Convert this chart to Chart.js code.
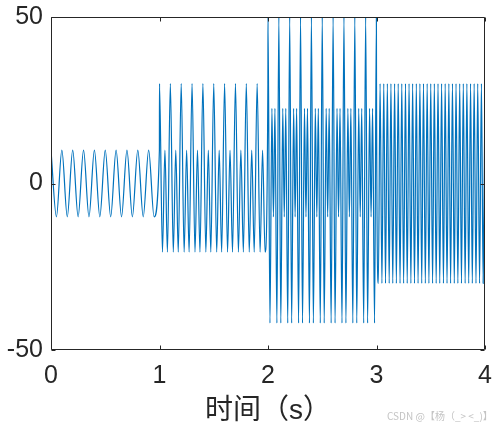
<!DOCTYPE html>
<html>
<head>
<meta charset="utf-8">
<script src="https://cdn.jsdelivr.net/npm/chart.js@4.4.1/dist/chart.umd.min.js"></script>
<style>
    body { margin: 0; background: #fff; }
    #wrap { position: relative; width: 497px; height: 426px; }
    #mark {
        position: absolute; left: 387px; top: 408px;
        font: 10px 'Noto Sans CJK SC', sans-serif; color: #c4c4c4; white-space: nowrap;
    }
</style>
</head>
<body>
<div id="wrap">
    <canvas id="signalChart" width="497" height="426"></canvas>
    <div id="mark">CSDN @【杨（_&gt; &lt;_)】</div>
</div>
<script>
// turning points of the plotted signal
// 0-1 s : 10 Hz, amplitude 10
const seg1Time = [0, 0.05, 0.1, 0.15, 0.2, 0.25, 0.3, 0.35, 0.4, 0.45, 0.5,
    0.55, 0.6, 0.65, 0.7, 0.75, 0.8, 0.85, 0.9, 0.95, 0.999];
const seg1Value = [10, -10, 10, -10, 10, -10, 10, -10, 10, -10, 10,
    -10, 10, -10, 10, -10, 10, -10, 10, -10, 10];

// 1-2 s : peaks at 30, troughs near -20.6, small peaks at 10
const seg2Time = [
    1.000, 1.027, 1.050, 1.073,
    1.100, 1.127, 1.150, 1.173,
    1.200, 1.227, 1.250, 1.273,
    1.300, 1.327, 1.350, 1.373,
    1.400, 1.427, 1.450, 1.473,
    1.500, 1.527, 1.550, 1.573,
    1.600, 1.627, 1.650, 1.673,
    1.700, 1.727, 1.750, 1.773,
    1.800, 1.827, 1.850, 1.873,
    1.900, 1.927, 1.950, 1.973, 1.999];
const seg2Value = [
    30, -20.6, 10, -20.6,
    30, -20.6, 10, -20.6,
    30, -20.6, 10, -20.6,
    30, -20.6, 10, -20.6,
    30, -20.6, 10, -20.6,
    30, -20.6, 10, -20.6,
    30, -20.6, 10, -20.6,
    30, -20.6, 10, -20.6,
    30, -20.6, 10, -20.6,
    30, -20.6, 10, -20.6, 30];

// 2-3 s : peaks at 50, troughs near -41.9, inner peaks 22.6, inner trough -10
const seg3Time = [
    2.000, 2.018, 2.036, 2.050, 2.064, 2.082,
    2.100, 2.118, 2.136, 2.150, 2.164, 2.182,
    2.200, 2.218, 2.236, 2.250, 2.264, 2.282,
    2.300, 2.318, 2.336, 2.350, 2.364, 2.382,
    2.400, 2.418, 2.436, 2.450, 2.464, 2.482,
    2.500, 2.518, 2.536, 2.550, 2.564, 2.582,
    2.600, 2.618, 2.636, 2.650, 2.664, 2.682,
    2.700, 2.718, 2.736, 2.750, 2.764, 2.782,
    2.800, 2.818, 2.836, 2.850, 2.864, 2.882,
    2.900, 2.918, 2.936, 2.950, 2.964, 2.982, 2.999];
const seg3Value = [
    50, -41.9, 22.6, -10, 22.6, -41.9,
    50, -41.9, 22.6, -10, 22.6, -41.9,
    50, -41.9, 22.6, -10, 22.6, -41.9,
    50, -41.9, 22.6, -10, 22.6, -41.9,
    50, -41.9, 22.6, -10, 22.6, -41.9,
    50, -41.9, 22.6, -10, 22.6, -41.9,
    50, -41.9, 22.6, -10, 22.6, -41.9,
    50, -41.9, 22.6, -10, 22.6, -41.9,
    50, -41.9, 22.6, -10, 22.6, -41.9,
    50, -41.9, 22.6, -10, 22.6, -41.9, 50];

// 3-4 s : 30 Hz, amplitude 30
const seg4Time = [
    3.000, 3.017, 3.033, 3.050, 3.067, 3.083, 3.100, 3.117, 3.133, 3.150,
    3.167, 3.183, 3.200, 3.217, 3.233, 3.250, 3.267, 3.283, 3.300, 3.317,
    3.333, 3.350, 3.367, 3.383, 3.400, 3.417, 3.433, 3.450, 3.467, 3.483,
    3.500, 3.517, 3.533, 3.550, 3.567, 3.583, 3.600, 3.617, 3.633, 3.650,
    3.667, 3.683, 3.700, 3.717, 3.733, 3.750, 3.767, 3.783, 3.800, 3.817,
    3.833, 3.850, 3.867, 3.883, 3.900, 3.917, 3.933, 3.950, 3.967, 3.983, 4.000];
const seg4Value = [
    30, -30, 30, -30, 30, -30, 30, -30, 30, -30,
    30, -30, 30, -30, 30, -30, 30, -30, 30, -30,
    30, -30, 30, -30, 30, -30, 30, -30, 30, -30,
    30, -30, 30, -30, 30, -30, 30, -30, 30, -30,
    30, -30, 30, -30, 30, -30, 30, -30, 30, -30,
    30, -30, 30, -30, 30, -30, 30, -30, 30, -30, 30];

const xTicks = [0, 1, 2, 3, 4];
const yTicks = [-50, 0, 50];
const xLabel = '时间（s）';

const axisColor = '#262626';
const lineColor = '#0072BD';
const tickFont = "'Liberation Sans', Arial, sans-serif";

function buildPoints() {
    const pts = [];
    [[seg1Time, seg1Value], [seg2Time, seg2Value], [seg3Time, seg3Value], [seg4Time, seg4Value]]
        .forEach(([t, v]) => {
            t.forEach((x, i) => pts.push({ x: x, y: v[i] }));
        });
    return pts;
}

// box around the axes with inward tick marks, like the original figure
const framePlugin = {
    id: 'frame',
    afterDatasetsDraw(chart) {
        const { ctx, chartArea: a, scales: { x, y } } = chart;
        const L = a.left + 0.5, R = a.right - 0.5, T = a.top + 0.5, B = a.bottom - 0.5;
        ctx.save();
        ctx.strokeStyle = axisColor;
        ctx.lineWidth = 1;
        ctx.beginPath();
        ctx.rect(L, T, R - L, B - T);
        xTicks.forEach(v => {
            const px = Math.round(x.getPixelForValue(v)) + 0.5;
            ctx.moveTo(px, B); ctx.lineTo(px, B - 4);
            ctx.moveTo(px, T); ctx.lineTo(px, T + 4);
        });
        yTicks.forEach(v => {
            const py = Math.round(y.getPixelForValue(v)) + 0.5;
            ctx.moveTo(L, py); ctx.lineTo(L + 4, py);
            ctx.moveTo(R, py); ctx.lineTo(R - 4, py);
        });
        ctx.stroke();
        ctx.restore();
    }
};

document.addEventListener('DOMContentLoaded', function() {
    const ctx = document.getElementById('signalChart').getContext('2d');
    window.signalChart = new Chart(ctx, {
        type: 'line',
        data: {
            datasets: [{
                data: buildPoints(),
                borderColor: lineColor,
                borderWidth: 1.2,
                pointRadius: 0,
                fill: false,
                cubicInterpolationMode: 'monotone'
            }]
        },
        options: {
            responsive: false,
            animation: false,
            events: [],
            layout: { padding: { left: 0, right: 12, top: 17, bottom: 0 } },
            plugins: {
                legend: { display: false },
                tooltip: { enabled: false }
            },
            scales: {
                x: {
                    type: 'linear',
                    min: 0,
                    max: 4,
                    afterBuildTicks(scale) { scale.ticks = xTicks.map(v => ({ value: v })); },
                    afterFit(scale) {
                        scale.height = 76;
                        scale.paddingLeft = 0;
                        scale.paddingRight = 0;
                    },
                    ticks: {
                        color: axisColor,
                        font: { family: tickFont, size: 25 },
                        padding: 11,
                        maxRotation: 0,
                        autoSkip: false
                    },
                    grid: { display: false, drawTicks: false },
                    border: { display: false },
                    title: {
                        display: true,
                        text: xLabel,
                        color: axisColor,
                        font: { family: "'Liberation Sans', 'Noto Sans CJK SC', sans-serif", size: 28, lineHeight: 1 },
                        padding: { top: 0, bottom: 1 }
                    }
                },
                y: {
                    min: -50,
                    max: 50,
                    afterBuildTicks(scale) { scale.ticks = yTicks.map(v => ({ value: v })); },
                    afterFit(scale) {
                        scale.width = 51;
                        scale.paddingTop = 0;
                        scale.paddingBottom = 0;
                    },
                    ticks: {
                        color: axisColor,
                        font: { family: tickFont, size: 25 },
                        padding: 8
                    },
                    grid: { display: false, drawTicks: false },
                    border: { display: false }
                }
            }
        },
        plugins: [framePlugin]
    });
});
</script>
</body>
</html>
